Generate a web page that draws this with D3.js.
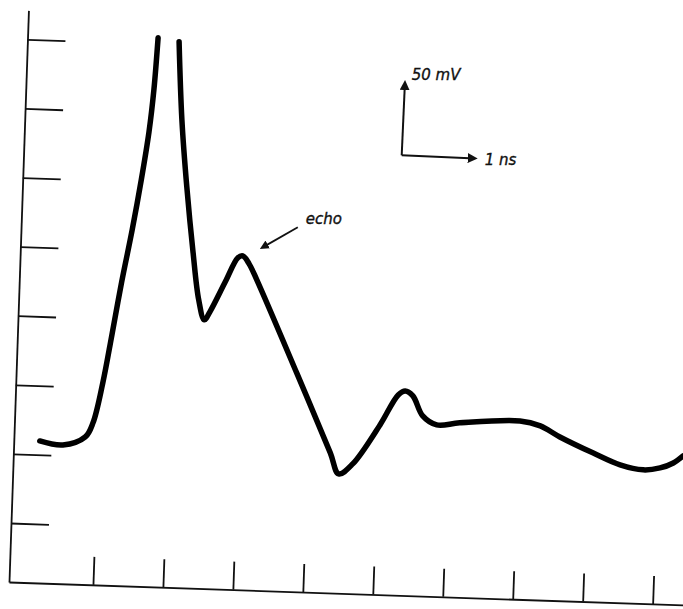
<!DOCTYPE html>
<html>
<head>
<meta charset="utf-8">
<script src="https://cdn.jsdelivr.net/npm/d3@7"></script>
<style>
  body { margin: 0; background: #fff; }
  svg { display: block; }
  text { font-family: "DejaVu Sans", sans-serif; font-style: italic; fill: #111; stroke: #111; stroke-width: 0.35; }
</style>
</head>
<body>
<div id="chart"></div>
<script>
// pulse trace, time in ns, amplitude in mV (null = pen lifted at the clipped peak)
const timeNs = [0.24, 0.57, 0.89, 1.0, 1.14, 1.27, 1.41, 1.56, 1.69, 1.8, 1.87, 1.93,
  null,
  2.23, 2.27, 2.34, 2.43, 2.51, 2.59, 2.67, 2.89, 3.07, 3.14, 3.23, 3.34, 3.91, 4.39, 4.51,
  4.71, 5.1, 5.36, 5.46, 5.57, 5.71, 5.91, 6.24, 7.1, 7.39, 7.67, 8.14, 8.53, 8.86, 9.1,
  9.29, 9.43];
const voltageMv = [59.3, 56.4, 62.2, 72.4, 101.3, 136.0, 174.4, 212.0, 248.2, 282.9, 313.3, 350.9,
  null,
  348.0, 291.6, 243.1, 195.4, 161.4, 146.9, 152.7, 174.4, 191.8, 193.2, 187.4, 175.8, 108.5, 50.7, 35.5,
  42.7, 70.9, 92.6, 95.5, 91.9, 77.4, 70.9, 72.4, 73.8, 70.2, 62.2, 50.7, 42.0, 38.4, 39.8,
  43.4, 48.5];

const xTicks = [1, 2, 3, 4, 5, 6, 7, 8, 9];
const yTicks = [0, 50, 100, 150, 200, 250, 300, 350];

// scale bar origin and the echo label
const barOrigin = { t: 5.41, v: 266 };
const echoLabel = { text: "echo", t: 4.04, v: 216, tipT: 3.33, tipV: 195 };

const width = 683, height = 609;

const svg = d3.select("#chart")
  .append("svg")
  .attr("width", width)
  .attr("height", height);

const xScale = d3.scaleLinear().domain([-0.2, 9.5]).range([9, 688]);
const yScale = d3.scaleLinear().domain([-42.7, 371]).range([582, 10]);

// the hand-drawn frame is tilted a couple of degrees
const tilt = `rotate(1.95, ${xScale(-0.2)}, ${yScale(-42.7)})`;

// X axis
svg.append("g")
  .attr("transform", `${tilt} translate(0, ${yScale(-42.7)})`)
  .call(d3.axisBottom(xScale).tickValues(xTicks).tickSizeInner(-28).tickSizeOuter(0).tickFormat(""));

// Y axis
svg.append("g")
  .attr("transform", `${tilt} translate(${xScale(-0.2)}, 0)`)
  .call(d3.axisRight(yScale).tickValues(yTicks).tickSizeInner(38).tickSizeOuter(0).tickFormat(""));

svg.selectAll(".domain, .tick line")
  .attr("stroke", "#111")
  .attr("stroke-width", 1.8);

// Trace
const points = timeNs.map((t, i) => ({ t: t, v: voltageMv[i] }));

const line = d3.line()
  .defined((d) => d.t !== null)
  .x((d) => xScale(d.t))
  .y((d) => yScale(d.v))
  .curve(d3.curveCatmullRom.alpha(0.5));

svg.append("path")
  .datum(points)
  .attr("d", line)
  .attr("fill", "none")
  .attr("stroke", "#000")
  .attr("stroke-width", 5.5)
  .attr("stroke-linecap", "round")
  .attr("stroke-linejoin", "round");

// arrow heads
svg.append("defs")
  .append("marker")
  .attr("id", "head")
  .attr("viewBox", "0 0 10 10")
  .attr("refX", 2)
  .attr("refY", 5)
  .attr("markerWidth", 5)
  .attr("markerHeight", 5)
  .attr("markerUnits", "strokeWidth")
  .attr("orient", "auto")
  .append("path")
  .attr("d", "M0,0 L10,5 L0,10 z")
  .attr("fill", "#111");

// Scale bar
const ox = xScale(barOrigin.t), oy = yScale(barOrigin.v);
svg.append("path")
  .attr("d", `M${ox},${oy} L${xScale(barOrigin.t + 1) - 2},${oy + 3}`)
  .attr("stroke", "#111").attr("stroke-width", 2).attr("fill", "none")
  .attr("marker-end", "url(#head)");
svg.append("path")
  .attr("d", `M${ox},${oy} L${ox + 3},${yScale(barOrigin.v + 50) + 2}`)
  .attr("stroke", "#111").attr("stroke-width", 2).attr("fill", "none")
  .attr("marker-end", "url(#head)");

svg.append("text")
  .attr("x", ox + 10)
  .attr("y", yScale(barOrigin.v + 50) - 6)
  .attr("font-size", 15)
  .text("50 mV");
svg.append("text")
  .attr("x", xScale(barOrigin.t + 1) + 13)
  .attr("y", oy + 10)
  .attr("font-size", 15)
  .text("1 ns");

// Echo annotation
svg.append("path")
  .attr("d", `M${xScale(echoLabel.t) - 8},${yScale(echoLabel.v) + 3} L${xScale(echoLabel.tipT) + 10},${yScale(echoLabel.tipV) - 8}`)
  .attr("stroke", "#111").attr("stroke-width", 1.8).attr("fill", "none")
  .attr("marker-end", "url(#head)");
svg.append("text")
  .attr("x", xScale(echoLabel.t))
  .attr("y", yScale(echoLabel.v))
  .attr("font-size", 15)
  .text(echoLabel.text);
</script>
</body>
</html>
